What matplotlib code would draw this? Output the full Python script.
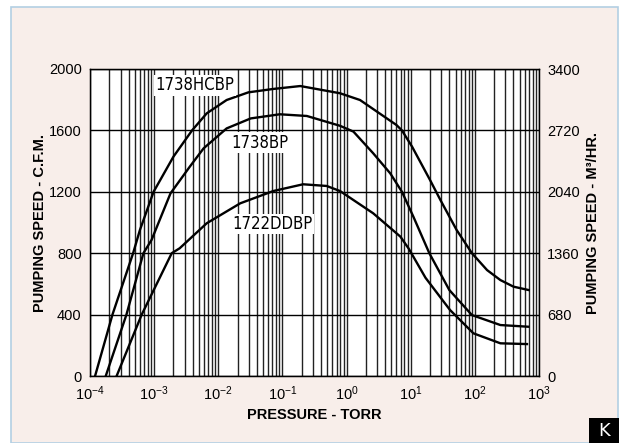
import matplotlib.pyplot as plt
from matplotlib.patches import Rectangle
from matplotlib.ticker import LogLocator, NullFormatter, FixedLocator

# pressure (torr) / speed (cfm)
p_hcbp = [1.2e-4, 2.24e-4, 4.7e-4, 6.0e-4, 9.8e-4, 2.0e-3, 3.9e-3, 6.6e-3, 1.35e-2, 2.95e-2,
          7.2e-2, 0.19, 0.79, 1.62, 6.0, 7.3, 10.5, 20, 29, 52, 90, 155, 250, 400, 690]
s_hcbp = [0, 400, 800, 951, 1200, 1429, 1600, 1711, 1798, 1848,
          1870, 1889, 1842, 1798, 1635, 1600, 1494, 1277, 1147, 951, 800, 690, 625, 582, 560]

p_bp = [1.76e-4, 3.7e-4, 6.8e-4, 9.1e-4, 1.8e-3, 3.6e-3, 5.9e-3, 1.35e-2, 3.2e-2, 9.1e-2,
        0.24, 0.79, 1.28, 2.6, 4.8, 7.3, 11, 19.5, 40, 90, 250, 680]
s_bp = [0, 400, 800, 886, 1190, 1364, 1483, 1613, 1678, 1705,
        1694, 1630, 1592, 1451, 1320, 1200, 1038, 800, 560, 397, 332, 321]

p_ddbp = [2.6e-4, 6.4e-4, 1.88e-3, 2.5e-3, 6.6e-3, 2.2e-2, 7.2e-2, 0.21, 0.49, 0.79,
          2.6, 6.9, 9.3, 17, 41, 95, 250, 650]
s_ddbp = [0, 400, 800, 832, 995, 1125, 1205, 1249, 1238, 1205,
          1060, 908, 830, 640, 430, 278, 213, 208]

names = ['1738HCBP', '1738BP', '1722DDBP']
label_pos = [(4.35e-3, 1893), (0.0444, 1521), (0.0698, 990)]

yticks = [0, 400, 800, 1200, 1600, 2000]
m3_ticks = [0, 680, 1360, 2040, 2720, 3400]
xticks = [1e-4, 1e-3, 1e-2, 1e-1, 1e0, 1e1, 1e2, 1e3]
xlabels = [r'$10^{-4}$', r'$10^{-3}$', r'$10^{-2}$', r'$10^{-1}$',
           r'$10^{0}$', r'$10^{1}$', r'$10^{2}$', r'$10^{3}$']

plt.rcParams['font.family'] = ['Liberation Sans', 'DejaVu Sans']
plt.rcParams['mathtext.fontset'] = 'custom'
plt.rcParams['mathtext.rm'] = 'Liberation Sans'
plt.rcParams['mathtext.it'] = 'Liberation Sans'
plt.rcParams['mathtext.default'] = 'rm'

fig = plt.figure(figsize=(6.26, 4.43), dpi=100)
fig.patch.set_facecolor('white')
W, H = 626, 443
fig.patches.append(Rectangle((11 / W, 0), (617.5 - 11) / W, (443 - 7) / H, transform=fig.transFigure,
                             facecolor='#f8eeea', edgecolor='#b3cfe3', linewidth=1.2, zorder=-5))

ax = fig.add_axes([90 / W, 1 - 376 / H, (539 - 90) / W, (376 - 69) / H])
ax.set_facecolor('white')
ax.set_xscale('log')
ax.set_xlim(1e-4, 1e3)
ax.set_ylim(0, 2000)

ax.xaxis.set_major_locator(FixedLocator(xticks))
ax.set_xticks(xticks)
ax.set_xticklabels(xlabels, fontsize=10.5)
ax.xaxis.set_minor_locator(LogLocator(base=10, subs=range(2, 10), numticks=20))
ax.xaxis.set_minor_formatter(NullFormatter())
ax.set_yticks(yticks)
ax.set_yticklabels([str(v) for v in yticks], fontsize=10.5)
ax.tick_params(which='both', length=0, pad=6)
ax.grid(True, which='both', axis='x', color='#222222', linewidth=1.0)
ax.grid(True, which='major', axis='y', color='black', linewidth=1.0)
ax.set_axisbelow(True)
for s in ax.spines.values():
    s.set_linewidth(1.0)

ax.plot(p_hcbp, s_hcbp, color='black', linewidth=1.7)
ax.plot(p_bp, s_bp, color='black', linewidth=1.7)
ax.plot(p_ddbp, s_ddbp, color='black', linewidth=1.7)

for name, (px, py) in zip(names, label_pos):
    ax.text(px, py, name, ha='center', va='center', fontsize=12,
            family='DejaVu Sans', fontstretch='condensed',
            bbox=dict(facecolor='white', edgecolor='none', pad=1.0))

ax.set_ylabel('PUMPING SPEED - C.F.M.', fontsize=10.5, fontweight='bold', labelpad=1)
ax.set_xlabel('PRESSURE - TORR', fontsize=10.5, fontweight='bold', labelpad=4)

ax2 = ax.twinx()
ax2.set_ylim(0, 3400)
ax2.set_yticks(m3_ticks)
ax2.set_yticklabels([str(v) for v in m3_ticks], fontsize=10.5)
ax2.tick_params(length=0, pad=6)
ax2.set_ylabel('PUMPING SPEED - M³/HR.', fontsize=10.5, fontweight='bold', labelpad=4)

fig.patches.append(Rectangle((589 / W, 0), 30 / W, 25.5 / H, transform=fig.transFigure,
                             facecolor='black', edgecolor='none', zorder=5))
fig.text(604 / W, 1 - 431 / H, 'K', color='white', fontsize=13, ha='center', va='center',
         family='DejaVu Sans', zorder=6)

fig.savefig('out.png', dpi=100)
